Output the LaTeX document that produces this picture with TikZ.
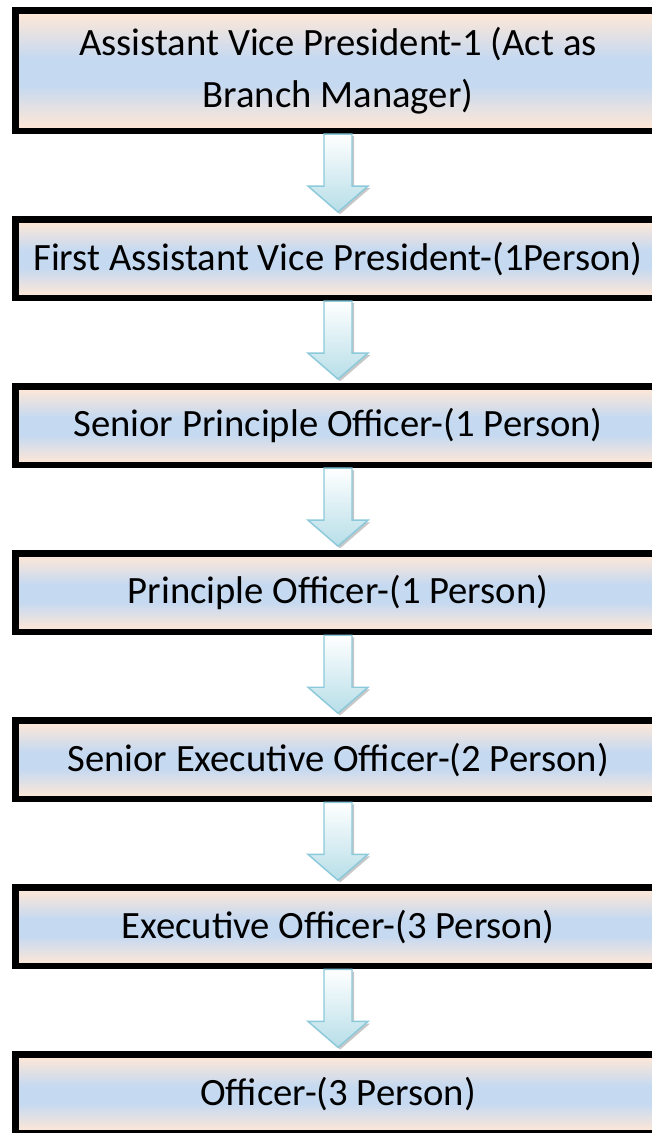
\documentclass[tikz,border=0pt]{standalone}
\usepackage{fontspec}
\setmainfont{Carlito}
\usetikzlibrary{positioning,calc,shadows}

\definecolor{peach}{RGB}{252,231,216}
\definecolor{paleblue}{RGB}{197,217,241}
\definecolor{arrowline}{RGB}{140,202,219}
\definecolor{arrowfill}{RGB}{183,222,232}

% peach at the edges, blue band in the middle
\pgfdeclareverticalshading{rankshade}{100bp}{color(0bp)=(peach); color(27bp)=(peach);
  color(44bp)=(paleblue); color(55bp)=(paleblue); color(73bp)=(peach); color(100bp)=(peach)}

\tikzset{
  rankbox/.style={draw=black, line width=4.9pt, rectangle,
    minimum width=484pt, minimum height=58.9pt, inner sep=0pt,
    shading=rankshade, align=center, font=\fontsize{29}{39}\selectfont},
  downarrow/.style={draw=arrowline, line width=1.1pt, line join=miter,
    top color=white, bottom color=arrowfill,
    drop shadow={shadow xshift=1.6pt, shadow yshift=-1.6pt, fill=gray!55, opacity=.8}}
}

% block arrow from the bottom of one box down to the next one
\newcommand{\flowarrow}[2]{%
  \draw[downarrow] ($(#1.south)+(-14,0)$) -- ($(#1.south)+(14,0)$)
    -- ($(#2.north)+(14,-30)$) -- ($(#2.north)+(30,-30)$)
    -- ($(#2.north)+(0,-4)$) -- ($(#2.north)+(-30,-30)$)
    -- ($(#2.north)+(-14,-30)$) -- cycle;}

\begin{document}
\begin{tikzpicture}[x=0.75pt, y=-0.75pt, node distance=61.5pt]
  \path[use as bounding box, clip] (0,0) rectangle (652,1133);
  \fill[white] (0,0) rectangle (652,1133);

  % the ranks, top to bottom
  \node[rankbox, minimum height=90.4pt] (avp) at (338,70.5)
    {Assistant Vice President-1 (Act as\\Branch Manager)};
  \node[rankbox, below=of avp] (favp) {First Assistant Vice President-(1Person)};
  \node[rankbox, below=of favp] (spo) {Senior Principle Officer-(1 Person)};
  \node[rankbox, below=of spo] (po) {Principle Officer-(1 Person)};
  \node[rankbox, below=of po] (seo) {Senior Executive Officer-(2 Person)};
  \node[rankbox, below=of seo] (eo) {Executive Officer-(3 Person)};
  \node[rankbox, below=of eo] (off) {Officer-(3 Person)};

  % arrows
  \flowarrow{avp}{favp}
  \flowarrow{favp}{spo}
  \flowarrow{spo}{po}
  \flowarrow{po}{seo}
  \flowarrow{seo}{eo}
  \flowarrow{eo}{off}
\end{tikzpicture}
\end{document}
